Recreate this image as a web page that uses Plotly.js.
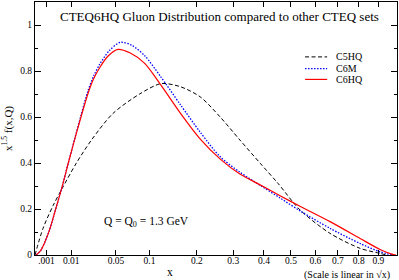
<!DOCTYPE html>
<html>
<head>
<meta charset="utf-8">
<script src="https://cdn.plot.ly/plotly-3.0.1.min.js"></script>
<style>html,body{margin:0;padding:0;background:#fff;}#chart{width:399px;height:280px;}</style>
</head>
<body>
<div id="chart"></div>
<script>
// x-axis positions are given as sqrt(x) (the chart's scale is linear in sqrt(x))
const c5hqSqrtX = [0, 0.022, 0.050, 0.077, 0.114, 0.156, 0.215, 0.289, 0.348, 0.401, 0.456, 0.511, 0.566, 0.622, 0.671, 0.732, 0.815, 0.898, 0.953, 0.970];
const c5hqY     = [0, 0.115, 0.215, 0.295, 0.399, 0.500, 0.615, 0.700, 0.745, 0.732, 0.688, 0.601, 0.500, 0.399, 0.312, 0.196, 0.094, 0.029, 0.007, 0];

const c6mSqrtX = [0.003, 0.015, 0.025, 0.040, 0.055, 0.075, 0.092, 0.110, 0.127, 0.146, 0.162, 0.179, 0.205, 0.236, 0.268, 0.304, 0.345, 0.401, 0.456, 0.511, 0.566, 0.622, 0.677, 0.732, 0.815, 0.898, 0.953, 0.986];
const c6mY     = [0, 0.018, 0.048, 0.108, 0.188, 0.297, 0.400, 0.507, 0.607, 0.712, 0.778, 0.830, 0.888, 0.925, 0.911, 0.865, 0.780, 0.655, 0.535, 0.428, 0.360, 0.303, 0.248, 0.192, 0.116, 0.050, 0.014, 0];

const c6hqSqrtX = [0.003, 0.015, 0.025, 0.040, 0.055, 0.075, 0.092, 0.110, 0.127, 0.146, 0.160, 0.179, 0.202, 0.229, 0.262, 0.303, 0.345, 0.401, 0.456, 0.511, 0.566, 0.622, 0.677, 0.732, 0.815, 0.898, 0.953, 0.986, 0.997];
const c6hqY     = [0, 0.018, 0.048, 0.108, 0.188, 0.297, 0.400, 0.505, 0.600, 0.700, 0.760, 0.815, 0.865, 0.894, 0.879, 0.833, 0.745, 0.618, 0.505, 0.418, 0.352, 0.305, 0.258, 0.212, 0.145, 0.072, 0.024, 0.004, 0];

const xTickLabels = ['.001', '0.01', '0.05', '0.1', '0.2', '0.3', '0.4', '0.5', '0.6', '0.7', '0.8', '0.9'];
const xTickValues = [0.001, 0.01, 0.05, 0.1, 0.2, 0.3, 0.4, 0.5, 0.6, 0.7, 0.8, 0.9];
const yTickValues = [0, 0.2, 0.4, 0.6, 0.8, 1];
const yTickLabels = ['0', '0.2', '0.4', '0.6', '0.8', '1'];

const seriesNames = ['C5HQ', 'C6M', 'C6HQ'];
const seriesColors = ['#000000', '#0000ff', '#ff0000'];
const seriesDash = ['4px,2.5px', '1.5px,1.5px', 'solid'];
const seriesWidth = [1, 1.3, 1.2];

const FONT = 'Liberation Serif, Times New Roman, serif';
const xs = [c5hqSqrtX, c6mSqrtX, c6hqSqrtX];
const ys = [c5hqY, c6mY, c6hqY];

const traces = seriesNames.map((n, i) => ({
  x: xs[i], y: ys[i], name: n, type: 'scatter', mode: 'lines',
  line: {color: seriesColors[i], dash: seriesDash[i], width: seriesWidth[i], shape: 'spline', smoothing: 0.8},
  showlegend: false, hoverinfo: 'skip'
}));

// compact legend, as in the reference
const legY = [0.783, 0.737, 0.694];
const shapes = seriesNames.map((n, i) => ({
  type: 'line', xref: 'paper', yref: 'paper', x0: 0.746, x1: 0.807, y0: legY[i], y1: legY[i],
  line: {color: seriesColors[i], dash: seriesDash[i], width: seriesWidth[i]}
}));
const annotations = seriesNames.map((n, i) => ({
  text: n, xref: 'paper', yref: 'paper', x: 0.826, y: legY[i], xanchor: 'left', yanchor: 'middle',
  showarrow: false, font: {family: FONT, size: 10, color: '#000'}
}));
annotations.push(
  {text: 'CTEQ6HQ Gluon Distribution compared to other CTEQ sets', xref: 'paper', yref: 'paper', x: 0.511, y: 0.941,
   xanchor: 'center', yanchor: 'middle', showarrow: false, font: {family: FONT, size: 13, color: '#000'}},
  {text: 'Q = Q<sub>0</sub> = 1.3 GeV', xref: 'paper', yref: 'paper', x: 0.184, y: 0.130,
   xanchor: 'left', yanchor: 'middle', showarrow: false, font: {family: FONT, size: 11.5, color: '#000'}},
  {text: 'x', xref: 'paper', yref: 'paper', x: 0.373, y: -0.068,
   xanchor: 'center', yanchor: 'middle', showarrow: false, font: {family: FONT, size: 11.5, color: '#000'}},
  {text: '(Scale is linear in √x)', xref: 'paper', yref: 'paper', x: 0.862, y: -0.078,
   xanchor: 'center', yanchor: 'middle', showarrow: false, font: {family: FONT, size: 10, color: '#000'}}
);

const layout = {
  width: 399, height: 280,
  margin: {l: 35, r: 2, t: 2, b: 25, pad: 0},
  paper_bgcolor: '#fff', plot_bgcolor: '#fff',
  showlegend: false,
  font: {family: FONT, size: 10, color: '#000'},
  xaxis: {
    range: [0, 1], tickmode: 'array', tickvals: xTickValues.map(Math.sqrt), ticktext: xTickLabels,
    ticks: 'inside', ticklen: 5, tickwidth: 1, tickcolor: '#000', ticklabelstandoff: -3,
    showline: true, linecolor: '#000', linewidth: 1, mirror: 'ticks',
    showgrid: false, zeroline: false, tickfont: {family: FONT, size: 9.5, color: '#000'}, fixedrange: true
  },
  yaxis: {
    range: [0, 1.1], tickmode: 'array', tickvals: yTickValues, ticktext: yTickLabels,
    ticks: 'inside', ticklen: 6, tickwidth: 1, tickcolor: '#000',
    minor: {tickmode: 'array', tickvals: [0.1, 0.3, 0.5, 0.7, 0.9, 1.1], ticks: 'inside', ticklen: 3, tickcolor: '#000', showgrid: false},
    showline: true, linecolor: '#000', linewidth: 1, mirror: 'ticks',
    showgrid: false, zeroline: false, tickfont: {family: FONT, size: 9.5, color: '#000'}, fixedrange: true,
    title: {text: 'x<sup>1.5</sup> f(x,Q)', font: {family: FONT, size: 11}, standoff: 8}
  },
  shapes: shapes,
  annotations: annotations
};

Plotly.newPlot('chart', traces, layout, {staticPlot: true, displayModeBar: false});
</script>
</body>
</html>
